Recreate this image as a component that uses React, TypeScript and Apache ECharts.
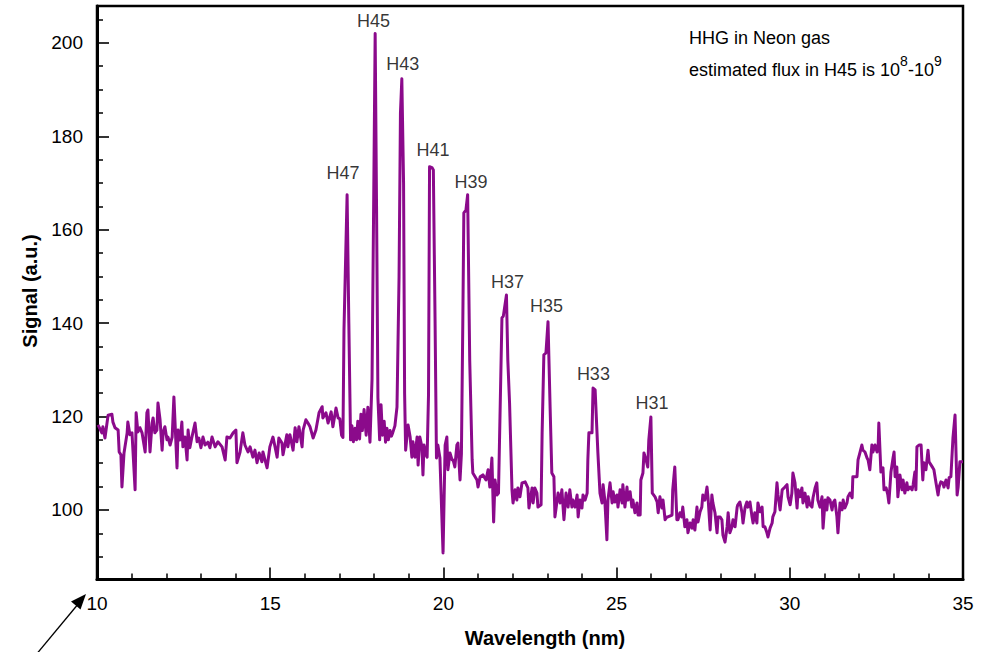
import { useEffect, useRef } from 'react';
import * as echarts from 'echarts';

// Spectrum: [wavelength (nm), signal (a.u.)]
const segmentShort: number[][] = [
  [10.03,118.2],[10.14,116.5],[10.17,117.8],[10.23,115.4],[10.32,120.3],[10.43,120.5],[10.46,118.8],[10.52,117.6],[10.61,117.1],[10.64,112.4],[10.69,111.8],[10.72,104.9],[10.78,112.2],[10.87,116.5],[10.89,118.8],[10.95,116.1],[11.01,116.5],[11.10,104.3],[11.13,120.8],[11.18,116.7],[11.24,117.6],[11.30,116.5],[11.39,112.4],[11.44,120.8],[11.47,121.4],[11.53,112.4],[11.59,118.6],[11.62,119.7],[11.67,116.5],[11.73,117.1],[11.76,122.9],[11.82,119.3],[11.88,112.8],[11.91,116.7],[11.96,117.8],[12.02,115.0],[12.05,115.6],[12.11,113.9],[12.17,115.6],[12.22,124.2],[12.31,109.0],[12.34,117.1],[12.40,115.0],[12.45,118.8],[12.48,113.5],[12.54,115.6],[12.60,110.7],[12.63,117.1],[12.68,113.3],[12.74,115.6],[12.83,118.6],[12.89,114.6],[12.94,115.4],[13.00,113.3],[13.06,115.6],[13.12,113.9],[13.20,114.5],[13.26,113.3],[13.32,115.6],[13.41,113.5],[13.49,114.6],[13.61,113.5],[13.70,110.7],[13.75,115.6],[13.84,115.4],[13.93,116.5],[14.01,117.1],[14.04,110.1],[14.13,112.4],[14.21,116.5],[14.27,113.9],[14.36,112.4],[14.42,113.5],[14.50,111.3],[14.56,112.8],[14.62,110.1],[14.68,112.2],[14.76,110.3],[14.79,112.4],[14.91,109.0],[14.94,110.7],[14.99,113.5],[15.08,115.6],[15.14,113.5],[15.20,111.3],[15.25,115.4],[15.34,114.3],[15.37,111.8],[15.48,116.1],[15.51,113.5],[15.57,116.1],[15.66,112.8],[15.72,117.6],[15.77,114.6],[15.83,117.8],[15.92,113.5],[15.95,117.1],[16.03,119.3],[16.09,118.6],[16.15,117.8],[16.24,115.4],[16.32,117.1],[16.41,120.8],[16.50,122.1],[16.52,119.7],[16.61,120.8],[16.67,118.6],[16.76,121.0],[16.81,117.8],[16.90,121.8],[16.96,119.7]
];

const segmentPeaks: number[][] = [
  [17.01,119.5],[17.06,116.0],[17.10,115.5],[17.13,138.5],[17.22,167.5],[17.27,140.0],[17.32,115.0],[17.36,118.0],[17.40,114.6],[17.45,117.5],[17.49,115.0],[17.53,119.0],[17.58,115.2],[17.62,120.5],[17.66,117.0],[17.71,121.5],[17.77,116.0],[17.82,122.0],[17.88,114.5],[17.94,128.0],[17.98,160.0],[18.03,202.0],[18.07,165.0],[18.11,124.0],[18.16,115.0],[18.20,122.5],[18.24,116.0],[18.29,119.0],[18.33,114.5],[18.37,117.5],[18.41,115.0],[18.46,117.0],[18.50,115.8],[18.54,116.6],[18.60,118.0],[18.66,122.0],[18.72,150.0],[18.76,185.0],[18.80,192.3],[18.85,170.0],[18.88,125.0],[18.91,112.8],[18.98,118.2],[19.04,115.6],[19.09,111.3],[19.12,114.6],[19.18,111.3],[19.24,115.6],[19.27,109.6],[19.32,115.6],[19.38,113.5],[19.41,107.5],[19.44,113.9],[19.50,111.8],[19.53,111.3],[19.57,124.6],[19.60,173.5],[19.67,173.3],[19.71,172.8],[19.76,140.0],[19.80,111.1],[19.84,113.9],[19.90,111.1],[19.99,90.8],[20.05,113.9],[20.10,115.6],[20.13,108.6],[20.19,112.2],[20.25,110.7],[20.28,110.7],[20.33,109.2],[20.39,113.9],[20.42,114.3],[20.48,106.4],[20.52,112.0],[20.56,140.0],[20.59,163.6],[20.65,164.2],[20.70,167.5],[20.76,132.0],[20.83,110.7],[20.85,107.9],[20.97,106.4]
];

const segmentMiddle: number[][] = [
  [21.00,104.9],[21.06,107.1],[21.14,107.5],[21.23,106.4],[21.29,108.6],[21.34,104.9],[21.40,111.1],[21.45,97.4],[21.49,106.4],[21.55,103.2],[21.59,103.6],[21.69,141.1],[21.73,141.5],[21.82,146.0],[21.86,132.0],[21.91,122.9],[21.98,104.3],[22.01,101.5],[22.07,104.3],[22.12,102.1],[22.15,104.7],[22.21,102.8],[22.27,105.8],[22.36,106.0],[22.44,104.7],[22.47,100.4],[22.56,104.7],[22.59,101.5],[22.64,104.7],[22.70,103.6],[22.73,100.6],[22.82,101.1],[22.85,116.5],[22.90,133.2],[22.96,133.6],[23.02,140.3],[23.08,122.1],[23.13,107.9],[23.19,107.1],[23.22,98.5],[23.31,103.6],[23.37,101.5],[23.42,104.3],[23.48,97.9],[23.54,103.6],[23.60,100.6],[23.65,104.3],[23.71,100.6],[23.74,102.1],[23.80,100.6],[23.86,103.2],[23.89,98.5],[23.94,102.1],[24.00,100.4],[24.03,103.2],[24.09,102.1],[24.15,103.6],[24.17,110.7],[24.20,116.5],[24.29,116.5],[24.32,126.1],[24.38,125.7],[24.46,112.2],[24.52,103.6],[24.58,101.5],[24.61,105.4],[24.66,102.1],[24.72,93.6],[24.75,102.1],[24.81,105.8],[24.87,101.5],[24.90,103.9],[24.95,101.7],[25.01,103.2],[25.04,100.6],[25.10,104.3],[25.16,101.5],[25.18,105.4],[25.24,100.6],[25.30,104.9],[25.33,102.1],[25.39,103.9],[25.44,100.6],[25.47,102.1],[25.53,99.4],[25.59,101.5],[25.62,98.9],[25.68,98.9],[25.70,106.4],[25.76,107.9],[25.79,112.2],[25.85,110.7],[25.90,109.2],[25.93,115.0],[25.99,119.9],[26.03,103.6],[26.11,102.8],[26.17,101.7],[26.20,99.4],[26.25,102.8],[26.31,100.4],[26.34,102.1],[26.40,97.9],[26.45,98.5],[26.48,98.5]
];

const segmentLong: number[][] = [
  [26.60,98.9],[26.62,104.3],[26.68,109.2],[26.74,97.9],[26.77,97.9],[26.83,99.4],[26.88,98.5],[26.91,100.6],[26.97,96.4],[27.03,97.9],[27.06,95.1],[27.12,97.2],[27.18,96.1],[27.21,97.9],[27.26,95.7],[27.32,100.6],[27.35,97.4],[27.41,99.6],[27.46,100.6],[27.49,103.2],[27.55,102.1],[27.61,104.9],[27.64,102.6],[27.70,95.7],[27.75,103.2],[27.78,101.5],[27.84,99.4],[27.90,95.1],[27.93,98.5],[27.99,98.5],[28.04,97.9],[28.07,94.6],[28.13,93.1],[28.19,96.4],[28.22,99.4],[28.27,95.1],[28.33,96.4],[28.36,97.9],[28.42,96.4],[28.48,100.6],[28.50,101.1],[28.56,101.7],[28.62,99.4],[28.65,97.2],[28.71,100.6],[28.76,101.7],[28.79,100.6],[28.85,101.7],[28.91,98.5],[28.94,97.2],[28.99,99.4],[29.05,97.2],[29.08,101.5],[29.14,99.6],[29.20,100.6],[29.23,96.4],[29.28,96.4],[29.34,95.1],[29.37,94.2],[29.43,96.1],[29.49,97.2],[29.51,98.5],[29.57,99.6],[29.63,105.8],[29.66,103.2],[29.72,100.0],[29.78,104.3],[29.80,104.3],[29.86,104.9],[29.92,105.4],[29.95,102.8],[30.01,101.1],[30.06,103.6],[30.09,107.9],[30.15,105.8],[30.21,100.4],[30.24,104.3],[30.29,102.8],[30.35,104.7],[30.38,101.5],[30.44,103.6],[30.50,100.6],[30.53,102.8],[30.58,101.1],[30.64,100.6],[30.67,102.6],[30.73,104.7],[30.78,105.8],[30.81,102.1],[30.87,100.6],[30.93,102.8],[30.96,96.1],[31.02,102.1],[31.07,100.0],[31.10,102.6],[31.16,102.1],[31.22,100.0],[31.25,101.5],[31.30,102.1],[31.36,98.5],[31.39,95.1],[31.45,101.5],[31.51,100.0],[31.54,102.1],[31.59,100.4],[31.65,101.5],[31.68,102.8],[31.74,103.6],[31.80,102.6],[31.82,107.1],[31.88,107.1],[31.94,107.1],[31.97,110.7],[32.03,112.4],[32.08,113.9],[32.11,112.8],[32.17,112.4],[32.23,111.1],[32.26,110.7],[32.31,108.6],[32.37,113.9],[32.40,112.4],[32.46,113.9],[32.52,112.4],[32.55,113.3],[32.57,118.6],[32.63,108.1],[32.69,109.0],[32.72,104.3],[32.78,104.7],[32.83,103.2],[32.86,101.5],[32.92,108.1],[32.98,111.1],[33.01,112.4],[33.04,107.1],[33.09,109.2],[33.12,102.8],[33.18,107.5],[33.24,104.3],[33.27,106.4],[33.32,103.6],[33.38,105.8],[33.41,104.3],[33.47,104.9],[33.53,104.3],[33.56,105.4],[33.61,108.1],[33.64,104.3],[33.67,113.5],[33.73,113.9],[33.79,113.9],[33.84,106.4],[33.87,110.1],[33.93,108.6],[33.99,112.8],[34.02,110.3],[34.08,109.6],[34.13,109.0],[34.16,108.6],[34.22,105.8],[34.28,103.2],[34.31,104.9],[34.36,106.0],[34.42,105.8],[34.45,104.9],[34.51,106.4],[34.57,104.7],[34.60,106.9],[34.65,107.1],[34.71,115.4],[34.77,120.3],[34.83,103.2],[34.86,104.9],[34.91,110.3],[35.00,110.3]
];

// Harmonic labels and their positions (data coordinates)
const harmonicNames = ['H47', 'H45', 'H43', 'H41', 'H39', 'H37', 'H35', 'H33', 'H31'];
const harmonicX = [17.10, 17.98, 18.83, 19.70, 20.80, 21.85, 22.98, 24.33, 26.02];
const harmonicY = [172.2, 204.6, 195.5, 177.1, 170.3, 148.9, 143.6, 129.1, 122.8];

// Axis ticks
const yMajorTicks = [100, 120, 140, 160, 180, 200];
const yMinorTicks = [90, 95, 105, 110, 115, 125, 130, 135, 145, 150, 155, 165, 170, 175, 185, 190, 195, 205];

// Annotation pieces (normal text / superscript alternating)
const fluxPieces = ['estimated flux in H45 is 10', '8', '-10', '9'];

const FONT = '"Liberation Sans", Arial, Helvetica, sans-serif';
const MAIN_SIZE = 18;
const SUP_SIZE = 14;

export default function App() {
  const ref = useRef<HTMLDivElement>(null);

  useEffect(() => {
    document.body.style.margin = '0';
    const chart = echarts.init(ref.current!, null, { renderer: 'svg' });
    const spectrum = [...segmentShort, ...segmentPeaks, ...segmentMiddle, ...segmentLong];

    // measure text widths to lay out superscripts
    const ctx = document.createElement('canvas').getContext('2d');
    const measure = (t: string, size: number) => {
      if (!ctx) return t.length * size * 0.55;
      ctx.font = `${size}px ${FONT}`;
      return ctx.measureText(t).width;
    };
    const fluxTexts: any[] = [];
    let cx = 689;
    fluxPieces.forEach((t, i) => {
      const sup = i % 2 === 1;
      const size = sup ? SUP_SIZE : MAIN_SIZE;
      fluxTexts.push({
        type: 'text',
        x: cx,
        y: sup ? 61 : 70,
        style: {
          text: t,
          fontSize: size,
          fontFamily: FONT,
          fill: '#000',
          align: 'left',
          verticalAlign: 'middle',
        },
      });
      cx += measure(t, size);
    });

    chart.setOption({
      animation: false,
      backgroundColor: '#ffffff',
      textStyle: { fontFamily: FONT },
      grid: {
        left: 97,
        right: 25,
        top: 6,
        bottom: 72.5,
        show: true,
        borderColor: '#000',
        borderWidth: 2.5,
        backgroundColor: 'transparent',
      },
      xAxis: {
        type: 'value',
        min: 10,
        max: 35,
        interval: 5,
        axisLine: { show: true, onZero: false, lineStyle: { color: '#000', width: 3 } },
        axisTick: { show: true, inside: true, length: 12, lineStyle: { color: '#000', width: 1.6 } },
        minorTick: { show: true, splitNumber: 5, length: 6, lineStyle: { color: '#000', width: 1.5 } },
        axisLabel: { fontSize: 19, color: '#000', margin: 14, fontFamily: FONT },
        splitLine: { show: false },
      },
      yAxis: [
        {
          type: 'value',
          min: 85.1,
          max: 207.9,
          position: 'left',
          axisLine: { show: true, onZero: false, lineStyle: { color: '#000', width: 3 } },
          axisTick: { show: true, inside: true, length: 12, customValues: yMajorTicks, lineStyle: { color: '#000', width: 1.6 } },
          axisLabel: { customValues: yMajorTicks, fontSize: 19, color: '#000', margin: 14, fontFamily: FONT },
          splitLine: { show: false },
        },
        {
          type: 'value',
          min: 85.1,
          max: 207.9,
          position: 'left',
          axisLine: { show: false, onZero: false },
          axisTick: { show: true, inside: true, length: 6, customValues: yMinorTicks, lineStyle: { color: '#000', width: 1.5 } },
          axisLabel: { show: false },
          splitLine: { show: false },
        },
      ],
      series: [
        {
          type: 'line',
          data: spectrum,
          yAxisIndex: 0,
          showSymbol: false,
          symbol: 'none',
          lineStyle: { color: '#8b0a8b', width: 3, join: 'round' },
          silent: true,
          z: 2,
        },
        {
          type: 'scatter',
          yAxisIndex: 0,
          data: harmonicNames.map((n, i) => ({ name: n, value: [harmonicX[i], harmonicY[i]] })),
          symbolSize: 1,
          itemStyle: { color: 'transparent' },
          silent: true,
          label: {
            show: true,
            position: 'inside',
            formatter: '{b}',
            fontSize: 18,
            color: '#000',
            textBorderWidth: 0,
            textBorderColor: 'transparent',
            fontFamily: FONT,
          },
          z: 3,
        },
      ],
      graphic: [
        {
          type: 'text',
          x: 545,
          y: 638,
          style: {
            text: 'Wavelength (nm)',
            fontSize: 20,
            fontWeight: 'bold',
            fontFamily: FONT,
            fill: '#000',
            align: 'center',
            verticalAlign: 'middle',
          },
        },
        {
          type: 'text',
          x: 30,
          y: 291,
          rotation: Math.PI / 2,
          style: {
            text: 'Signal (a.u.)',
            fontSize: 20,
            fontWeight: 'bold',
            fontFamily: FONT,
            fill: '#000',
            align: 'center',
            verticalAlign: 'middle',
          },
        },
        {
          type: 'text',
          x: 689,
          y: 38,
          style: {
            text: 'HHG in Neon gas',
            fontSize: MAIN_SIZE,
            fontFamily: FONT,
            fill: '#000',
            align: 'left',
            verticalAlign: 'middle',
          },
        },
        ...fluxTexts,
        {
          type: 'line',
          shape: { x1: 35, y1: 656, x2: 79, y2: 603 },
          style: { stroke: '#000', lineWidth: 1.3 },
        },
        {
          type: 'polygon',
          shape: { points: [[86, 594], [71, 601.5], [80.5, 609.5]] },
          style: { fill: '#000' },
        },
      ],
    });

    return () => chart.dispose();
  }, []);

  return <div ref={ref} style={{ width: 988, height: 652 }} />;
}
